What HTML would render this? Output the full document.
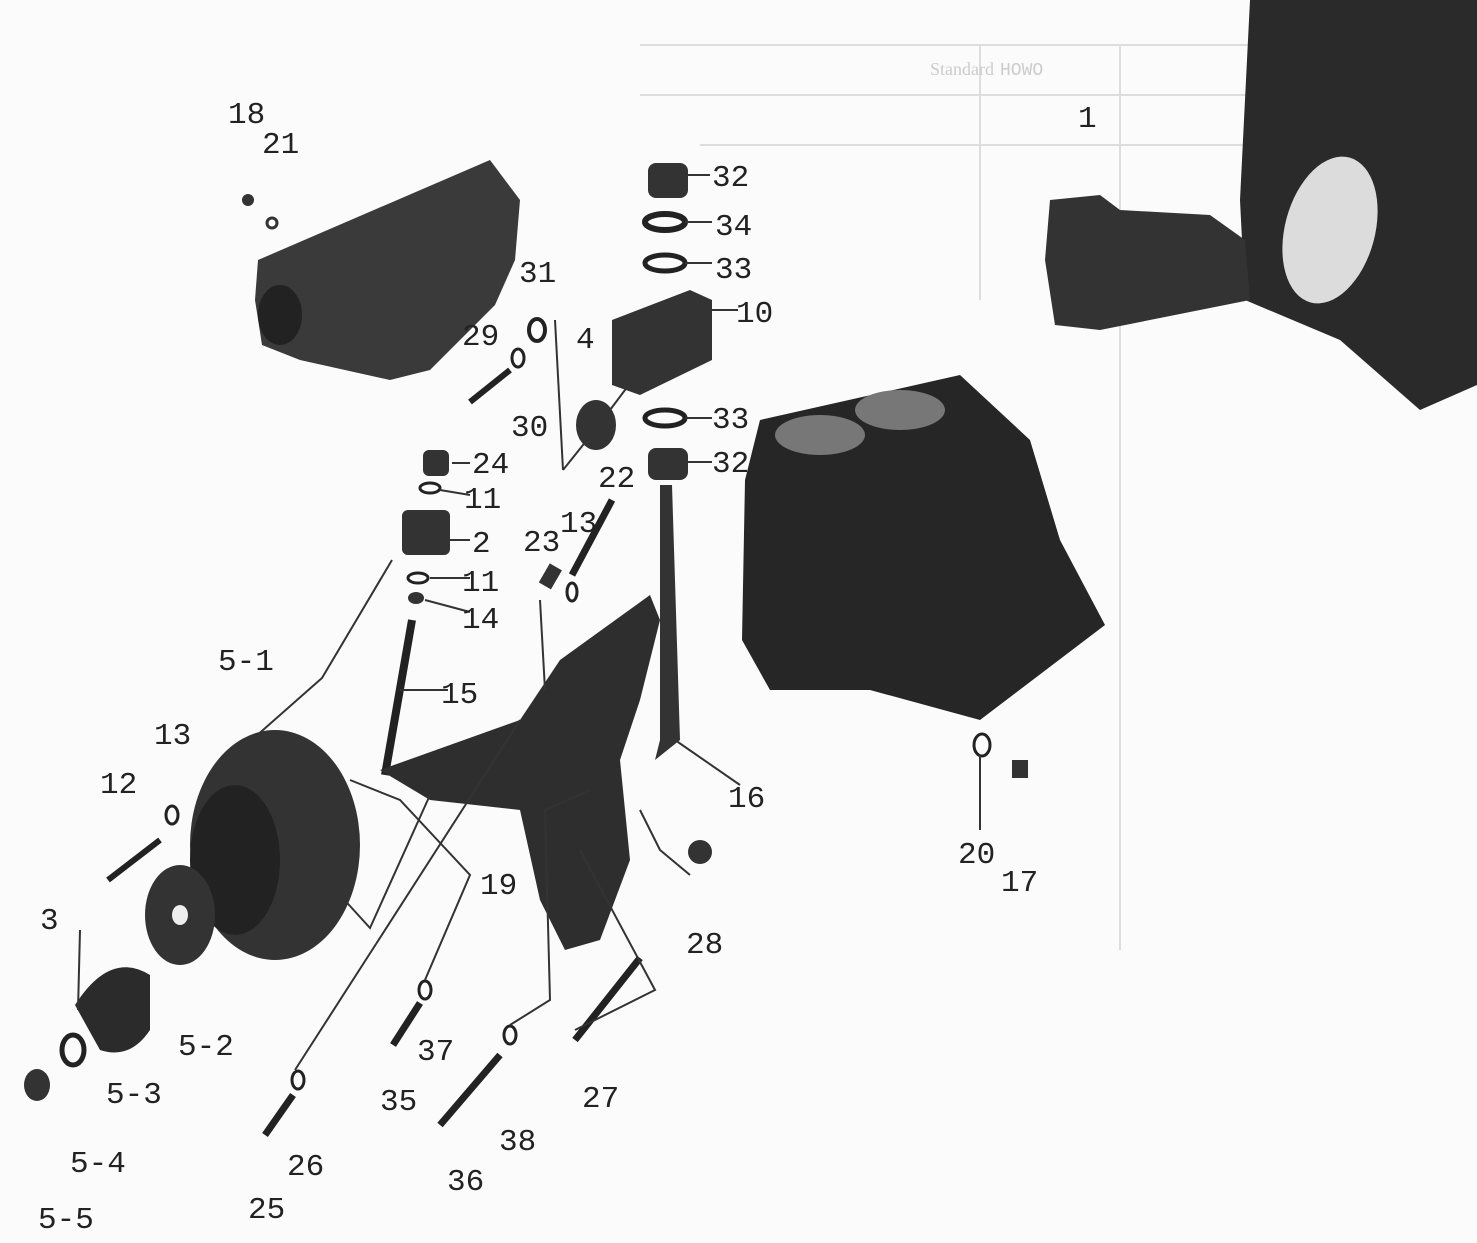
<!DOCTYPE html>
<html><head><meta charset="utf-8"><style>
html,body{margin:0;padding:0;background:#fff}
svg{display:block}
text{font-family:"Liberation Mono","DejaVu Sans Mono",monospace;font-size:31px;fill:#222}
</style></head><body>
<svg width="1477" height="1243" viewBox="0 0 1477 1243">
<rect width="1477" height="1243" fill="#fbfbfb"/>
<!-- faint table -->
<g stroke="#ddd" stroke-width="2" fill="none">
<line x1="640" y1="45" x2="1477" y2="45"/><line x1="640" y1="95" x2="1250" y2="95"/>
<line x1="980" y1="45" x2="980" y2="300"/><line x1="1120" y1="45" x2="1120" y2="950"/>
<line x1="700" y1="145" x2="1250" y2="145"/>
</g>
<g fill="#ccc" font-size="20"><text x="930" y="75" style="font-size:18px;fill:#ccc;font-family:'Liberation Serif',serif">Standard</text><text x="1000" y="75" style="font-size:18px;fill:#ccc">HOWO</text></g>
<!-- flywheel housing -->
<path d="M1250 0 L1477 0 L1477 385 L1420 410 L1340 340 L1245 300 L1240 200 Z" fill="#2a2a2a"/>
<ellipse cx="1330" cy="230" rx="45" ry="75" fill="#dcdcdc" transform="rotate(15 1330 230)"/>
<!-- starter -->
<path d="M1050 200 L1100 195 L1120 210 L1210 215 L1245 240 L1250 300 L1100 330 L1055 325 L1045 260 Z" fill="#333"/>
<!-- manifold -->
<path d="M258 260 L490 160 L520 200 L515 260 L495 305 L430 370 L390 380 L300 360 L262 345 L255 300 Z" fill="#3a3a3a"/>
<ellipse cx="280" cy="315" rx="22" ry="30" fill="#222"/>
<circle cx="248" cy="200" r="6" fill="#333"/><circle cx="272" cy="223" r="5" fill="none" stroke="#333" stroke-width="3"/>
<!-- engine block -->
<path d="M760 420 L960 375 L1030 440 L1060 540 L1105 625 L980 720 L870 690 L770 690 L742 640 L745 480 Z" fill="#262626"/>
<ellipse cx="820" cy="435" rx="45" ry="20" fill="#777"/><ellipse cx="900" cy="410" rx="45" ry="20" fill="#777"/>
<!-- 32/34/33/10 stack -->
<rect x="648" y="163" width="40" height="35" rx="8" fill="#333"/>
<ellipse cx="665" cy="222" rx="20" ry="8" fill="none" stroke="#222" stroke-width="6"/>
<ellipse cx="665" cy="263" rx="20" ry="8" fill="none" stroke="#222" stroke-width="5"/>
<path d="M612 320 L690 290 L712 300 L712 360 L640 395 L612 385 Z" fill="#333"/>
<ellipse cx="665" cy="418" rx="20" ry="8" fill="none" stroke="#222" stroke-width="5"/>
<rect x="648" y="448" width="40" height="32" rx="8" fill="#333"/>
<ellipse cx="596" cy="425" rx="20" ry="25" fill="#333"/>
<!-- 31/30/29 -->
<ellipse cx="537" cy="330" rx="8" ry="11" fill="none" stroke="#222" stroke-width="4"/>
<ellipse cx="518" cy="358" rx="6" ry="9" fill="none" stroke="#222" stroke-width="3"/>
<line x1="470" y1="402" x2="510" y2="370" stroke="#222" stroke-width="6"/>
<!-- 24 11 2 11 14 15 -->
<rect x="423" y="450" width="26" height="26" rx="6" fill="#333"/>
<ellipse cx="430" cy="488" rx="10" ry="5" fill="none" stroke="#222" stroke-width="3"/>
<rect x="402" y="510" width="48" height="45" rx="6" fill="#333"/>
<ellipse cx="418" cy="578" rx="10" ry="5" fill="none" stroke="#222" stroke-width="3"/>
<ellipse cx="416" cy="598" rx="8" ry="6" fill="#333"/>
<line x1="412" y1="620" x2="385" y2="775" stroke="#222" stroke-width="8"/>
<!-- 22 23 13 16 -->
<line x1="572" y1="575" x2="612" y2="500" stroke="#222" stroke-width="7"/>
<rect x="544" y="565" width="14" height="22" fill="#333" transform="rotate(30 550 575)"/>
<ellipse cx="572" cy="592" rx="5" ry="9" fill="none" stroke="#222" stroke-width="3"/>
<path d="M660 485 L672 485 L680 740 L655 760 L660 740 Z" fill="#333"/>
<!-- bracket 19 -->
<path d="M380 770 L520 720 L560 660 L650 595 L660 620 L640 700 L620 760 L630 860 L600 940 L565 950 L540 900 L520 810 L430 800 Z" fill="#2e2e2e"/>
<!-- alternator -->
<ellipse cx="275" cy="845" rx="85" ry="115" fill="#333"/>
<ellipse cx="235" cy="860" rx="45" ry="75" fill="#222"/>
<line x1="160" y1="890" x2="220" y2="870" stroke="#222" stroke-width="8"/>
<line x1="108" y1="880" x2="160" y2="840" stroke="#222" stroke-width="6"/>
<ellipse cx="172" cy="815" rx="6" ry="9" fill="none" stroke="#222" stroke-width="3"/>
<!-- fan, pulley -->
<ellipse cx="180" cy="915" rx="35" ry="50" fill="#333"/>
<ellipse cx="180" cy="915" rx="8" ry="10" fill="#eee"/>
<path d="M75 1005 Q110 950 150 975 L150 1030 Q130 1060 100 1050 Z" fill="#2b2b2b"/>
<ellipse cx="73" cy="1050" rx="11" ry="15" fill="none" stroke="#222" stroke-width="5"/>
<ellipse cx="37" cy="1085" rx="13" ry="16" fill="#333"/>
<!-- small bolts -->
<ellipse cx="298" cy="1080" rx="6" ry="9" fill="none" stroke="#222" stroke-width="3"/>
<line x1="265" y1="1135" x2="293" y2="1095" stroke="#222" stroke-width="7"/>
<ellipse cx="425" cy="990" rx="6" ry="9" fill="none" stroke="#222" stroke-width="3"/>
<line x1="393" y1="1045" x2="420" y2="1003" stroke="#222" stroke-width="7"/>
<ellipse cx="510" cy="1035" rx="6" ry="9" fill="none" stroke="#222" stroke-width="3"/>
<line x1="440" y1="1125" x2="500" y2="1055" stroke="#222" stroke-width="7"/>
<line x1="575" y1="1040" x2="640" y2="958" stroke="#222" stroke-width="7"/>
<circle cx="700" cy="852" r="12" fill="#333"/>
<ellipse cx="982" cy="745" rx="8" ry="11" fill="none" stroke="#222" stroke-width="3"/>
<rect x="1012" y="760" width="16" height="18" fill="#333"/>
<!-- leader lines -->
<g stroke="#333" stroke-width="2" fill="none">
<polyline points="563,470 595,430 640,370"/><polyline points="563,470 555,320"/>
<polyline points="392,560 322,678 246,745"/>
<polyline points="340,895 370,928 430,795"/>
<polyline points="295,1070 520,720"/>
<polyline points="425,980 470,875 400,800 350,780"/>
<polyline points="510,1025 550,1000 545,810 590,790"/>
<polyline points="575,1030 655,990 580,850"/>
<polyline points="690,875 660,850 640,810"/>
<polyline points="545,690 540,600"/>
<line x1="680" y1="175" x2="710" y2="175"/><line x1="685" y1="222" x2="712" y2="222"/>
<line x1="685" y1="263" x2="712" y2="263"/><line x1="700" y1="310" x2="738" y2="310"/>
<line x1="685" y1="418" x2="712" y2="418"/><line x1="685" y1="462" x2="712" y2="462"/>
<line x1="452" y1="463" x2="470" y2="463"/><line x1="440" y1="490" x2="470" y2="495"/>
<line x1="450" y1="540" x2="470" y2="540"/><line x1="430" y1="578" x2="470" y2="578"/>
<line x1="425" y1="600" x2="470" y2="612"/><line x1="400" y1="690" x2="448" y2="690"/>
<line x1="675" y1="740" x2="740" y2="785"/><line x1="980" y1="755" x2="980" y2="830"/>
<line x1="80" y1="930" x2="78" y2="1010"/>
</g>
<!-- labels -->
<text x="228" y="123">18</text><text x="262" y="153">21</text>
<text x="1078" y="127">1</text>
<text x="712" y="186">32</text><text x="715" y="235">34</text><text x="715" y="278">33</text>
<text x="736" y="322">10</text><text x="519" y="282">31</text><text x="462" y="345">29</text>
<text x="576" y="348">4</text><text x="511" y="436">30</text>
<text x="712" y="428">33</text><text x="712" y="472">32</text>
<text x="472" y="473">24</text><text x="464" y="508">11</text><text x="598" y="487">22</text>
<text x="523" y="551">23</text><text x="560" y="532">13</text><text x="472" y="552">2</text>
<text x="462" y="591">11</text><text x="462" y="628">14</text>
<text x="218" y="670">5-1</text><text x="441" y="703">15</text>
<text x="154" y="744">13</text><text x="100" y="793">12</text>
<text x="728" y="807">16</text><text x="480" y="894">19</text>
<text x="958" y="863">20</text><text x="1001" y="891">17</text>
<text x="686" y="953">28</text><text x="40" y="929">3</text>
<text x="178" y="1055">5-2</text><text x="417" y="1060">37</text>
<text x="380" y="1110">35</text><text x="582" y="1107">27</text>
<text x="106" y="1103">5-3</text><text x="70" y="1172">5-4</text>
<text x="499" y="1150">38</text><text x="287" y="1175">26</text>
<text x="447" y="1190">36</text><text x="248" y="1218">25</text>
<text x="38" y="1228">5-5</text>
</svg>
</body></html>
